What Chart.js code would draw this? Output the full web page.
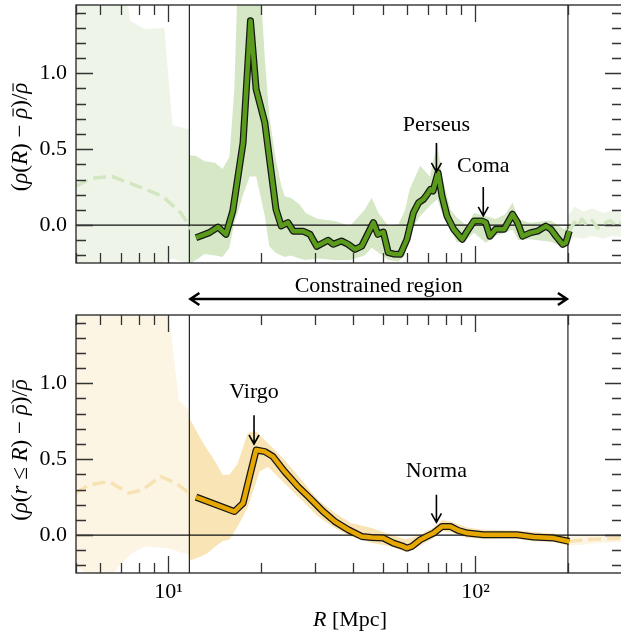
<!DOCTYPE html>
<html>
<head>
<meta charset="utf-8">
<script src="https://cdn.jsdelivr.net/npm/chart.js@4.4.0/dist/chart.umd.min.js"></script>
<style>
  html, body { margin: 0; padding: 0; background: #fff; overflow: hidden; }
  #wrap { position: relative; width: 621px; height: 637px; overflow: hidden; }
  #topChart { position: absolute; left: 0; top: 0; }
  #botChart { position: absolute; left: 0; top: 270px; }
</style>
</head>
<body>
<div id="wrap">
  <canvas id="topChart" width="640" height="270"></canvas>
  <canvas id="botChart" width="640" height="367"></canvas>
</div>
<script>
// axes
var X_MIN = 5, X_MAX = 300;
var Y_MIN = -0.25, Y_MAX = 1.45;
var REGION = [11.7, 200];
var X_MAJOR = [10, 100];
var X_MAJOR_LABELS = ['10\u00b9', '10\u00b2'];
var X_MINOR = [5, 6, 7, 8, 9, 20, 30, 40, 50, 60, 70, 80, 90, 200, 300];
var Y_MAJOR = [0, 0.5, 1.0];
var Y_MINOR = [-0.2, -0.1, 0.1, 0.2, 0.3, 0.4, 0.6, 0.7, 0.8, 0.9, 1.1, 1.2, 1.3, 1.4];

// top panel: density in shells
var shellR = [12.3, 13.6, 14.5, 15.4, 16.2, 17.5, 18.5, 19.3, 20.6, 22.4, 23.3, 24.5, 25.5, 27.4, 28.9, 30.4,
  33.1, 34.4, 36.6, 38.5, 40.5, 42.6, 44.8, 46.5, 48.1, 50.1, 52.0, 54.0, 56.9, 59.8, 62.8, 65.3, 67.7, 69.5,
  71.3, 72.7, 75.5, 77.8, 80.8, 84.9, 90.5, 94.0, 98.8, 105.2, 107.9, 111.4, 116.3, 123.9, 132.0, 137.1,
  142.3, 151.4, 159.2, 169.5, 176.1, 182.8, 192.2, 197.0, 202];
var shellDelta = [-0.083, -0.05, -0.013, -0.061, 0.092, 0.543, 1.346, 0.895, 0.675, 0.104, -0.006, 0.016, -0.04, -0.04, -0.061, -0.14,
  -0.10, -0.127, -0.105, -0.127, -0.16, -0.139, -0.05, 0.016, -0.061, -0.046, -0.182, -0.19, -0.193, -0.094, 0.082, 0.148, 0.17, 0.2,
  0.235, 0.224, 0.345, 0.191, 0.059, -0.028, -0.094, -0.04, 0.026, 0.026, 0.016, -0.073, -0.028, -0.028, 0.071, 0.016,
  -0.073, -0.05, -0.04, -0.007, -0.028, -0.073, -0.127, -0.116, -0.04];
var shellBandR = [11.7, 12.3, 13.1, 14.2, 15.0, 15.8, 16.4, 16.8, 17.5, 18.4, 19.3, 19.9, 20.6, 21.3, 22.3, 23.3, 23.9, 25.0,
  26.7, 28, 30.7, 34.8, 39, 43.5, 45.9, 48.3, 52, 56.1, 59, 61, 66, 71, 75.1, 77.8, 83, 87, 94, 98.8, 108, 116, 125, 132,
  138, 150, 176, 195, 202];
var shellBandHi = [0.46, 0.455, 0.42, 0.41, 0.37, 0.45, 0.9, 1.6, 1.6, 1.6, 1.6, 1.6, 1.1, 0.72, 0.45, 0.26, 0.19, 0.18,
  0.137, 0.08, 0.04, 0.026, -0.006, 0.1, 0.18, 0.08, -0.006, 0.005, 0.1, 0.235, 0.39, 0.32, 0.54, 0.32, 0.10, 0.05, -0.007, 0.08, 0.06, 0.04, 0.07, 0.148,
  0.04, 0.016, 0.03, -0.03, 0.02];
var shellBandLo = [-0.26, -0.23, -0.19, -0.2, -0.21, -0.15, 0.016, 0.08, 0.2, 0.32, 0.32, 0.2, 0.06, -0.14, -0.18, -0.2, -0.21, -0.2,
  -0.22, -0.23, -0.22, -0.23, -0.23, -0.2, -0.15, -0.18, -0.23, -0.24, -0.2, -0.05, 0.06, 0.125, 0.17, 0.08, -0.03, -0.116, -0.094, -0.05, -0.116, -0.07, -0.05, -0.03,
  -0.1, -0.094, -0.11, -0.15, -0.1];
var shellOuterLR = [5, 7.25, 7.5, 8.4, 9.7, 10.3, 11.7];
var shellOuterLHi = [1.6, 1.6, 1.346, 1.29, 1.30, 0.66, 0.63];
var shellOuterLLo = [-0.3, -0.3, -0.3, -0.3, -0.24, -0.22, -0.26];
var shellOuterRR = [200, 210, 225, 240, 260, 280, 300];
var shellOuterRHi = [0.06, 0.12, 0.09, 0.11, 0.08, 0.1, 0.08];
var shellOuterRLo = [-0.12, -0.08, -0.09, -0.07, -0.09, -0.07, -0.08];
var shellFaintLR = [5, 5.64, 6.56, 7.62, 9.56, 10.97, 11.7, 12.3];
var shellFaintL = [0.257, 0.31, 0.32, 0.27, 0.19, 0.08, -0.006, -0.083];
var shellFaintRR = [202, 210, 215, 222, 230, 240, 250, 262, 275, 288, 300];
var shellFaintR = [-0.04, 0.02, -0.01, 0.04, 0.0, 0.03, -0.02, 0.01, 0.03, -0.01, 0.02];

// bottom panel: enclosed density
var enclR = [12.3, 16.4, 17.5, 19.3, 20.6, 21.9, 23.9, 26.4, 28.9, 31.9, 34.8, 38.5, 42.6, 45.9, 50.1, 54.0, 58.2, 59.8,
  62, 66.1, 70, 73.1, 77.8, 82.8, 88, 94.0, 106.2, 120.3, 136.3, 154.4, 180, 202];
var enclDelta = [0.25, 0.155, 0.21, 0.56, 0.55, 0.517, 0.418, 0.32, 0.243, 0.155, 0.09, 0.035, -0.009, -0.016, -0.02, -0.053, -0.075, -0.086,
  -0.075, -0.031, -0.005, 0.013, 0.057, 0.057, 0.03, 0.013, 0.002, 0.002, 0.002, -0.013, -0.02, -0.042];
var enclBandR = [11.7, 12.8, 13.4, 14.1, 15.0, 15.8, 16.8, 18.1, 18.6, 19.3, 19.8, 21.1, 23.9, 27.1, 30.7, 34.8, 39.3, 45.9,
  53.2, 59, 66, 73, 78, 83, 94, 106, 136, 154, 180, 202];
var enclBandHi = [0.77, 0.627, 0.56, 0.495, 0.397, 0.397, 0.47, 0.67, 0.68, 0.68, 0.66, 0.605, 0.495, 0.364, 0.232, 0.145, 0.079, 0.046,
  0.002, -0.03, 0.0, 0.05, 0.10, 0.09, 0.05, 0.035, 0.03, 0.02, 0.01, -0.01];
var enclBandLo = [-0.17, -0.14, -0.12, -0.08, -0.04, -0.03, 0.057, 0.18, 0.254, 0.35, 0.418, 0.45, 0.34, 0.232, 0.122, 0.046, -0.009, -0.053,
  -0.075, -0.11, -0.07, -0.02, 0.025, 0.02, -0.02, -0.025, -0.025, -0.04, -0.045, -0.07];
var enclOuterLR = [5, 5.5, 6.5, 7.0, 7.6, 8.4, 9.8, 10.05, 10.8, 11.7];
var enclOuterLHi = [1.6, 1.6, 1.6, 1.6, 1.6, 1.6, 1.6, 1.45, 0.89, 0.82];
var enclOuterLLo = [-0.2, -0.27, -0.27, -0.19, -0.12, -0.075, -0.086, -0.09, -0.11, -0.13];
var enclOuterRR = [200, 230, 260, 300];
var enclOuterRHi = [-0.01, 0.0, 0.0, 0.005];
var enclOuterRLo = [-0.07, -0.06, -0.05, -0.045];
var enclFaintLR = [5, 5.5, 6.4, 7.44, 8.22, 9.44, 10.57, 11.7, 12.3];
var enclFaintL = [0.276, 0.33, 0.353, 0.276, 0.298, 0.386, 0.342, 0.276, 0.25];
var enclFaintRR = [202, 230, 260, 300];
var enclFaintR = [-0.042, -0.03, -0.025, -0.02];

// annotations (data coords)
var topNotes = [
  { text: 'Perseus', x: 74.6, textY: 0.66, from: 0.54, to: 0.35 },
  { text: 'Coma', x: 106, textY: 0.39, from: 0.25, to: 0.06 }
];
var botNotes = [
  { text: 'Virgo', x: 19.0, textY: 0.94, from: 0.79, to: 0.60 },
  { text: 'Norma', x: 74.6, textY: 0.42, from: 0.265, to: 0.083 }
];

var SERIF = "'Liberation Serif', 'Times New Roman', serif";
Chart.defaults.font.family = SERIF;

function pts(xs, ys) {
  return xs.map(function (x, i) { return { x: x, y: ys[i] }; });
}

function lineSet(xs, ys, color, width, dash) {
  return {
    data: pts(xs, ys), borderColor: color, borderWidth: width, borderDash: dash || [],
    pointRadius: 0, fill: false, tension: 0, borderJoinStyle: 'round', borderCapStyle: 'butt', clip: 0
  };
}

function bandSets(xs, hi, lo, color) {
  return [
    { data: pts(xs, hi), borderColor: 'rgba(0,0,0,0)', borderWidth: 0, pointRadius: 0, fill: false, clip: 0 },
    { data: pts(xs, lo), borderColor: 'rgba(0,0,0,0)', borderWidth: 0, pointRadius: 0, fill: '-1', backgroundColor: color, clip: 0 }
  ];
}

// first dataset ends up on top
function panelDatasets(p) {
  return [
    lineSet(p.r, p.v, p.color, 4.5),
    lineSet(p.r, p.v, '#161616', 7),
    lineSet(p.faintLR, p.faintL, p.faint, 3.5, [13, 6]),
    lineSet(p.faintRR, p.faintR, p.faint, 3.5, [13, 6]),
    lineSet([X_MIN, X_MAX], [0, 0], '#111', 1.2),
    lineSet([REGION[0], REGION[0]], [Y_MIN - 1, Y_MAX + 1], '#222', 1.2),
    lineSet([REGION[1], REGION[1]], [Y_MIN - 1, Y_MAX + 1], '#222', 1.2)
  ].concat(
    bandSets(p.bandR, p.bandHi, p.bandLo, p.band),
    bandSets(p.outLR, p.outLHi, p.outLLo, p.outer),
    bandSets(p.outRR, p.outRHi, p.outRLo, p.outer)
  );
}

function drawRich(ctx, parts, x, y, size) {
  var font = function (it) { return (it ? 'italic ' : '') + size + 'px ' + SERIF; };
  var w = 0;
  parts.forEach(function (p) { ctx.font = font(p[1]); w += ctx.measureText(p[0]).width; });
  var cx = x - w / 2;
  parts.forEach(function (p) {
    ctx.font = font(p[1]);
    var pw = ctx.measureText(p[0]).width;
    ctx.fillText(p[0], cx, y);
    if (p[2]) ctx.fillRect(cx + pw * 0.22, y - size * 0.63, pw * 0.72, Math.max(1, size * 0.05));
    cx += pw;
  });
}

function arrowDown(ctx, x, y0, y1, w) {
  ctx.beginPath();
  ctx.moveTo(x, y0); ctx.lineTo(x, y1);
  ctx.moveTo(x - 5, y1 - 9); ctx.lineTo(x, y1); ctx.lineTo(x + 5, y1 - 9);
  ctx.lineWidth = w;
  ctx.stroke();
}

var framePlugin = {
  id: 'frame',
  afterDatasetsDraw: function (chart) {
    var ctx = chart.ctx, a = chart.chartArea, sx = chart.scales.x, sy = chart.scales.y;
    var cfg = chart.options.plugins.frame;
    ctx.save();
    ctx.strokeStyle = '#222';
    ctx.lineWidth = 1.3;
    ctx.strokeRect(a.left, a.top, a.right - a.left, a.bottom - a.top);
    ctx.beginPath();
    function xt(v, len) {
      var px = Math.round(sx.getPixelForValue(v)) + 0.5;
      ctx.moveTo(px, a.bottom); ctx.lineTo(px, a.bottom - len);
      ctx.moveTo(px, a.top); ctx.lineTo(px, a.top + len);
    }
    function yt(v, len) {
      var py = Math.round(sy.getPixelForValue(v)) + 0.5;
      ctx.moveTo(a.left, py); ctx.lineTo(a.left + len, py);
      ctx.moveTo(a.right, py); ctx.lineTo(a.right - len, py);
    }
    X_MAJOR.forEach(function (v) { xt(v, 17); });
    X_MINOR.forEach(function (v) { xt(v, 10); });
    Y_MAJOR.forEach(function (v) { yt(v, 17); });
    Y_MINOR.forEach(function (v) { yt(v, 10); });
    ctx.strokeStyle = '#333';
    ctx.stroke();

    // annotations
    ctx.fillStyle = '#000';
    ctx.strokeStyle = '#000';
    ctx.textAlign = 'center';
    ctx.textBaseline = 'middle';
    ctx.font = '22px ' + SERIF;
    cfg.notes.forEach(function (n) {
      var px = sx.getPixelForValue(n.x);
      ctx.fillText(n.text, px, sy.getPixelForValue(n.textY));
      arrowDown(ctx, px, sy.getPixelForValue(n.from), sy.getPixelForValue(n.to), 1.6);
    });

    // y title
    ctx.save();
    ctx.translate(27, (a.top + a.bottom) / 2 + cfg.yshift);
    ctx.rotate(-Math.PI / 2);
    ctx.textAlign = 'left';
    ctx.textBaseline = 'alphabetic';
    drawRich(ctx, cfg.ylabel, 0, 0, 23);
    ctx.restore();

    if (cfg.bottom) {
      // x title
      ctx.textAlign = 'left';
      ctx.textBaseline = 'alphabetic';
      drawRich(ctx, [['R', 1], [' [Mpc]', 0]], (a.left + a.right) / 2 + 1, 356, 22);
      // constrained region arrow
      var x0 = sx.getPixelForValue(REGION[0]), x1 = sx.getPixelForValue(REGION[1]);
      var ya = 29;
      ctx.textAlign = 'center';
      ctx.font = '22px ' + SERIF;
      ctx.fillText('Constrained region', (x0 + x1) / 2, 22);
      ctx.beginPath();
      ctx.moveTo(x0 + 1, ya); ctx.lineTo(x1 - 1, ya);
      ctx.moveTo(x0 + 10, ya - 6); ctx.lineTo(x0 + 1, ya); ctx.lineTo(x0 + 10, ya + 6);
      ctx.moveTo(x1 - 10, ya - 6); ctx.lineTo(x1 - 1, ya); ctx.lineTo(x1 - 10, ya + 6);
      ctx.lineWidth = 2.5;
      ctx.lineJoin = 'miter';
      ctx.stroke();
    }
    ctx.restore();
  }
};

function makeChart(id, p, opts) {
  return new Chart(document.getElementById(id), {
    type: 'line',
    data: { datasets: panelDatasets(p) },
    options: {
      responsive: false,
      animation: false,
      layout: { padding: opts.padding },
      plugins: {
        legend: { display: false },
        tooltip: { enabled: false },
        frame: { notes: opts.notes, ylabel: opts.ylabel, bottom: opts.bottom, yshift: opts.yshift }
      },
      scales: {
        x: {
          type: 'logarithmic', min: X_MIN, max: X_MAX,
          display: opts.bottom,
          grid: { display: false, drawTicks: false },
          border: { display: false },
          afterBuildTicks: function (s) { s.ticks = X_MAJOR.map(function (v) { return { value: v }; }); },
          afterFit: function (s) {
            s.paddingLeft = 0; s.paddingRight = 0;
            if (opts.bottom) s.height = 64;
          },
          ticks: {
            autoSkip: false, maxRotation: 0, padding: 6, color: '#000',
            font: { family: SERIF, size: 22 },
            callback: function (v, i) { return X_MAJOR_LABELS[i]; }
          }
        },
        y: {
          type: 'linear', min: Y_MIN, max: Y_MAX,
          grid: { display: false, drawTicks: false },
          border: { display: false },
          afterBuildTicks: function (s) { s.ticks = Y_MAJOR.map(function (v) { return { value: v }; }); },
          afterFit: function (s) { s.width = 76; s.paddingTop = 0; s.paddingBottom = 0; },
          ticks: {
            padding: 9, color: '#000',
            font: { family: SERIF, size: 22 },
            callback: function (v) { return Number(v).toFixed(1); }
          }
        }
      }
    },
    plugins: [framePlugin]
  });
}

makeChart('topChart', {
  r: shellR, v: shellDelta, color: '#5b9b1b', faint: '#d3e6c2', band: '#d5e7c5', outer: '#eef5e8',
  faintLR: shellFaintLR, faintL: shellFaintL, faintRR: shellFaintRR, faintR: shellFaintR,
  bandR: shellBandR, bandHi: shellBandHi, bandLo: shellBandLo,
  outLR: shellOuterLR, outLHi: shellOuterLHi, outLLo: shellOuterLLo,
  outRR: shellOuterRR, outRHi: shellOuterRHi, outRLo: shellOuterRLo
}, {
  padding: { top: 5, right: 18, bottom: 7, left: 0 },
  notes: topNotes, bottom: false, yshift: 3,
  ylabel: [['(', 0], ['\u03c1', 1], ['(', 0], ['R', 1], [')', 0], [' \u2212 ', 0], ['\u03c1', 1, 1], [')/', 0], ['\u03c1', 1, 1]]
});

makeChart('botChart', {
  r: enclR, v: enclDelta, color: '#e6a700', faint: '#f7e2b2', band: '#f8e4b4', outer: '#fcf5e3',
  faintLR: enclFaintLR, faintL: enclFaintL, faintRR: enclFaintRR, faintR: enclFaintR,
  bandR: enclBandR, bandHi: enclBandHi, bandLo: enclBandLo,
  outLR: enclOuterLR, outLHi: enclOuterLHi, outLLo: enclOuterLLo,
  outRR: enclOuterRR, outRHi: enclOuterRHi, outRLo: enclOuterRLo
}, {
  padding: { top: 45, right: 18, bottom: 0, left: 0 },
  notes: botNotes, bottom: true, yshift: 6,
  ylabel: [['(', 0], ['\u03c1', 1], ['(', 0], ['r', 1], [' \u2264 ', 0], ['R', 1], [')', 0], [' \u2212 ', 0], ['\u03c1', 1, 1], [')/', 0], ['\u03c1', 1, 1]]
});
</script>
</body>
</html>
